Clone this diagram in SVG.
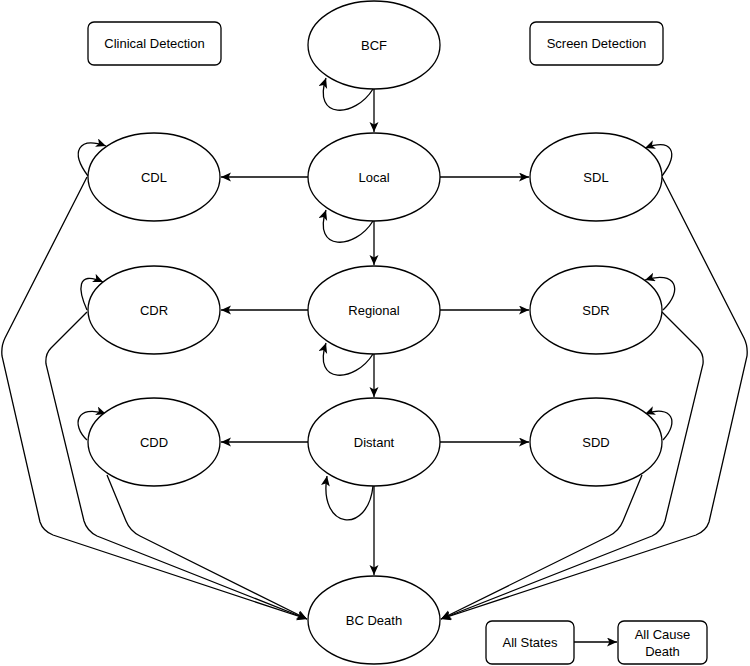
<svg xmlns="http://www.w3.org/2000/svg" width="750" height="666" viewBox="0 0 750 666">
<defs>
<style>
.n{fill:#fff;stroke:#000;stroke-width:1.3}
.t{font-family:"Liberation Sans",Arial,Helvetica,sans-serif;font-size:13px;fill:#000;text-anchor:middle;dominant-baseline:central}
.e{fill:none;stroke:#000;stroke-width:1.3;marker-end:url(#ah)}
</style>
<marker id="ah" markerWidth="11" markerHeight="10" refX="10" refY="4.5" orient="auto" markerUnits="userSpaceOnUse">
<path d="M0,0 L10,4.5 L0,9 L2.5,4.5 z" fill="#000"/>
</marker>
</defs>
<rect width="750" height="666" fill="#fff"/>
<g id="connectors">
<path class="e" d="M374 89 L374 132"/>
<path class="e" d="M374 221 L374 265"/>
<path class="e" d="M374 354 L374 397"/>
<path class="e" d="M374 486 L374 575"/>
<path class="e" d="M308 177 L221 177"/>
<path class="e" d="M440 177 L529 177"/>
<path class="e" d="M308 310 L221 310"/>
<path class="e" d="M440 310 L529 310"/>
<path class="e" d="M308 442 L221 442"/>
<path class="e" d="M440 442 L529 442"/>
<path class="e" d="M373 89 C355 118 312 120 326 78"/>
<path class="e" d="M373 221 C355 250 312 252 326 210"/>
<path class="e" d="M373 354 C355 383 312 385 326 343"/>
<path class="e" d="M373 486 C368 535 318 530 327 476"/>
<path class="e" d="M88 176 C70 152 78 136 106 146"/>
<path class="e" d="M87 310 C78 290 76 270 103 282"/>
<path class="e" d="M87 440 C71 425 76 404 106 414"/>
<path class="e" d="M662 176 C680 152 672 138 645 148"/>
<path class="e" d="M663 310 C684 290 676 270 645 280"/>
<path class="e" d="M663 440 C680 422 672 404 645 414"/>
<path class="e" d="M87 177 L5 338 Q1 346 2 356 L40 522 Q43 531 53 535 L307 619"/>
<path class="e" d="M87 312 L51 348 Q45 354 46 364 L84 521 Q87 531 97 536 L307 619"/>
<path class="e" d="M107 475 L126 521 Q130 531 140 536 L307 619"/>
<path class="e" d="M662 177 L744 338 Q748 346 747 356 L709 522 Q706 531 696 535 L441 619"/>
<path class="e" d="M662 312 L698 348 Q704 354 703 364 L665 521 Q662 531 652 536 L441 619"/>
<path class="e" d="M642 475 L623 521 Q619 531 609 536 L441 619"/>
<path class="e" d="M574 642 L617 642"/>
</g>
<g id="clinical"><rect class="n" x="88" y="22" width="133" height="43" rx="6"/><text class="t" x="154.5" y="43.5">Clinical Detection</text></g>
<g id="screen"><rect class="n" x="530" y="22" width="133" height="43" rx="6"/><text class="t" x="596.5" y="43.5">Screen Detection</text></g>
<g id="bcf"><ellipse class="n" cx="374" cy="45" rx="66" ry="44"/><text class="t" x="374" y="45">BCF</text></g>
<g id="local"><ellipse class="n" cx="374" cy="177" rx="66" ry="44"/><text class="t" x="374" y="177">Local</text></g>
<g id="regional"><ellipse class="n" cx="374" cy="310" rx="66" ry="44"/><text class="t" x="374" y="310">Regional</text></g>
<g id="distant"><ellipse class="n" cx="374" cy="442" rx="66" ry="44"/><text class="t" x="374" y="442">Distant</text></g>
<g id="bcdeath"><ellipse class="n" cx="374" cy="620" rx="66" ry="44"/><text class="t" x="374" y="620">BC Death</text></g>
<g id="cdl"><ellipse class="n" cx="154" cy="177" rx="66" ry="44"/><text class="t" x="154" y="177">CDL</text></g>
<g id="cdr"><ellipse class="n" cx="154" cy="310" rx="66" ry="44"/><text class="t" x="154" y="310">CDR</text></g>
<g id="cdd"><ellipse class="n" cx="154" cy="442" rx="66" ry="44"/><text class="t" x="154" y="442">CDD</text></g>
<g id="sdl"><ellipse class="n" cx="596" cy="177" rx="66" ry="44"/><text class="t" x="596" y="177">SDL</text></g>
<g id="sdr"><ellipse class="n" cx="596" cy="310" rx="66" ry="44"/><text class="t" x="596" y="310">SDR</text></g>
<g id="sdd"><ellipse class="n" cx="596" cy="442" rx="66" ry="44"/><text class="t" x="596" y="442">SDD</text></g>
<g id="allstates"><rect class="n" x="486" y="621" width="88" height="43" rx="6"/><text class="t" x="530" y="642.5">All States</text></g>
<g id="allcause"><rect class="n" x="618" y="621" width="89" height="43" rx="6"/><text class="t" x="662.5" y="634">All Cause</text><text class="t" x="662.5" y="651">Death</text></g>
</svg>
